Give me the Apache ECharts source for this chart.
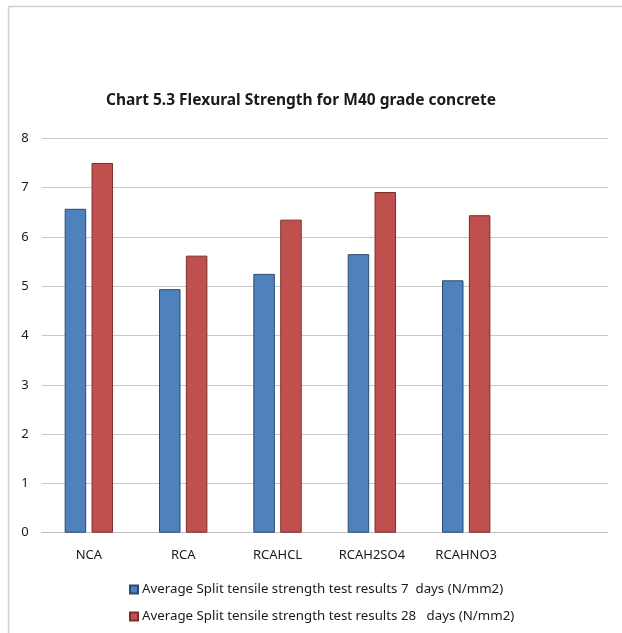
<!DOCTYPE html>
<html>
<head>
<meta charset="utf-8">
<title>Flexural Strength for M40 grade concrete</title>
<script src="https://cdn.jsdelivr.net/npm/echarts@6/dist/echarts.min.js"></script>
<style>
  html, body { margin: 0; padding: 0; background: #ffffff; }
  #chart { width: 622px; height: 633px; }
</style>
</head>
<body>
<div id="chart"></div>
<script>
// Mix categories (last slot left empty on the axis)
const categories = ['NCA', 'RCA', 'RCAHCL', 'RCAH2SO4', 'RCAHNO3', ''];

// Strength values in N/mm2
const days7 = [6.57, 4.94, 5.25, 5.65, 5.12];
const days28 = [7.50, 5.62, 6.35, 6.91, 6.44];

const seriesNames = [
  'Average Split tensile strength test results 7  days (N/mm2)',
  'Average Split tensile strength test results 28   days (N/mm2)'
];

const yTicks = [0, 1, 2, 3, 4, 5, 6, 7, 8];

const FONT = '"Noto Sans", "Open Sans", sans-serif';

const chart = echarts.init(document.getElementById('chart'), null, { renderer: 'canvas' });

chart.setOption({
  backgroundColor: '#ffffff',
  animation: false,
  title: {
    text: 'Chart 5.3 Flexural Strength for M40 grade concrete',
    left: 101,
    top: 88,
    textStyle: { fontFamily: FONT, fontSize: 15.5, fontWeight: 'bold', color: '#1a1a1a' }
  },
  graphic: [
    { type: 'line', shape: { x1: 8.5, y1: 6.5, x2: 622, y2: 6.5 }, style: { stroke: '#cfcfcf', lineWidth: 1.5 } },
    { type: 'line', shape: { x1: 8.5, y1: 6.5, x2: 8.5, y2: 633 }, style: { stroke: '#cfcfcf', lineWidth: 1.5 } }
  ],
  grid: { left: 41.7, right: 14.3, top: 138.3, bottom: 100.3, containLabel: false },
  legend: {
    orient: 'vertical',
    left: 124,
    top: 578,
    itemWidth: 8,
    itemHeight: 8,
    itemGap: 14,
    icon: 'rect',
    textStyle: { fontFamily: FONT, fontSize: 13.3, color: '#1a1a1a', padding: [0, 0, 0, -1] },
    data: seriesNames
  },
  xAxis: {
    type: 'category',
    data: categories,
    axisTick: { show: false },
    axisLine: { lineStyle: { color: '#bdbdbd', width: 1 } },
    axisLabel: { fontFamily: FONT, fontSize: 13, color: '#1a1a1a', margin: 16, interval: 0 }
  },
  yAxis: {
    type: 'value',
    min: yTicks[0],
    max: yTicks[yTicks.length - 1],
    interval: 1,
    axisLine: { show: false },
    axisTick: { show: false },
    splitLine: { lineStyle: { color: '#c8c8c8', width: 1 } },
    axisLabel: { fontFamily: FONT, fontSize: 13, color: '#1a1a1a', margin: 13 }
  },
  series: [
    {
      name: seriesNames[0],
      type: 'bar',
      data: days7,
      barWidth: 21.5,
      barGap: '25%',
      itemStyle: { color: '#4f81bd', borderColor: '#2b4a70', borderWidth: 1 }
    },
    {
      name: seriesNames[1],
      type: 'bar',
      data: days28,
      barWidth: 21.5,
      barGap: '25%',
      itemStyle: { color: '#c0504d', borderColor: '#7a2e2c', borderWidth: 1 }
    }
  ]
});
</script>
</body>
</html>
